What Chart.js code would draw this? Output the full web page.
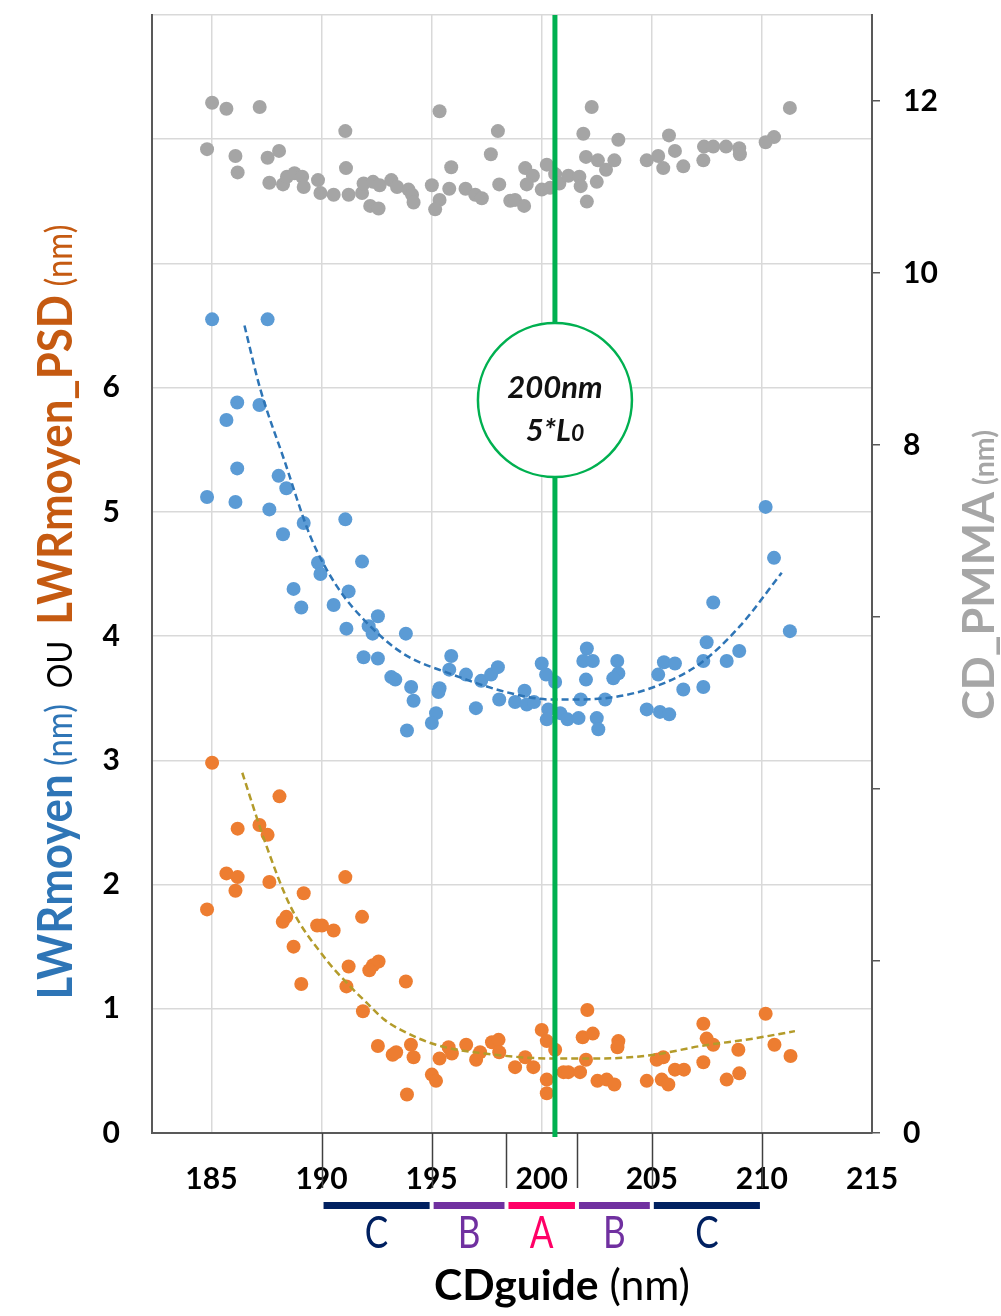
<!DOCTYPE html>
<html>
<head>
<meta charset="utf-8">
<script src="https://cdn.jsdelivr.net/npm/chart.js@4.4.1/dist/chart.umd.min.js"></script>
<style>
    html, body { margin: 0; padding: 0; background: #fff; }
    #wrap { width: 1001px; height: 1316px; }
</style>
</head>
<body>
<div id="wrap"><canvas id="mainChart" width="1001" height="1316"></canvas></div>
<script>
// CD_PMMA (right axis, nm)
const grayPoints = [
    [185.03, 11.98], [185.68, 11.91], [187.19, 11.93], [191.08, 11.65], [195.36, 11.88], [198.01, 11.65],
    [184.80, 11.44], [186.09, 11.36], [186.19, 11.17], [187.55, 11.34], [188.07, 11.42], [191.11, 11.22],
    [195.89, 11.23], [197.69, 11.38], [187.63, 11.05], [188.25, 11.03], [188.43, 11.12], [188.77, 11.16],
    [189.12, 11.12], [189.19, 11.00], [189.84, 11.08], [189.95, 10.93], [190.55, 10.91], [191.23, 10.91],
    [191.84, 10.93], [191.91, 11.04], [192.34, 11.06], [192.64, 11.02], [192.21, 10.78], [192.59, 10.75],
    [193.17, 11.08], [193.43, 11.00], [193.95, 10.97], [194.11, 10.91], [194.18, 10.82], [195.01, 11.02],
    [195.36, 10.85], [195.16, 10.74], [195.80, 10.98], [196.54, 10.98], [196.98, 10.91], [197.28, 10.87],
    [198.07, 11.03], [198.57, 10.84], [202.27, 11.93], [201.89, 11.62], [203.48, 11.55], [205.78, 11.60],
    [211.27, 11.92], [210.55, 11.58], [210.17, 11.52], [199.25, 11.22], [199.60, 11.13], [199.32, 11.03],
    [198.79, 10.85], [199.20, 10.78], [200.23, 11.26], [200.00, 10.97], [200.38, 10.99], [200.61, 11.15],
    [200.80, 11.04], [201.21, 11.13], [201.71, 11.12], [201.77, 11.01], [202.01, 11.35], [202.55, 11.31],
    [202.92, 11.20], [203.30, 11.31], [202.50, 11.06], [202.05, 10.83], [204.77, 11.31], [205.29, 11.36],
    [205.52, 11.22], [206.05, 11.42], [206.43, 11.24], [207.34, 11.31], [207.37, 11.47], [207.79, 11.47],
    [208.37, 11.47], [208.97, 11.45], [209.00, 11.38]
];

// LWRmoyen (left axis, nm)
const bluePoints = [
    [185.03, 6.55], [187.55, 6.55], [186.17, 5.88], [187.18, 5.86], [185.68, 5.74], [186.17, 5.35],
    [188.05, 5.29], [188.40, 5.19], [184.80, 5.12], [186.09, 5.08], [187.63, 5.02], [189.19, 4.91],
    [191.08, 4.94], [188.25, 4.82], [189.84, 4.59], [189.95, 4.50], [191.84, 4.60], [188.73, 4.38],
    [189.08, 4.23], [190.55, 4.25], [191.23, 4.36], [191.13, 4.06], [192.14, 4.08], [192.56, 4.16],
    [192.32, 4.02], [193.83, 4.02], [191.91, 3.83], [192.56, 3.82], [193.17, 3.67], [193.35, 3.65],
    [194.07, 3.59], [194.18, 3.48], [193.88, 3.24], [195.89, 3.84], [195.80, 3.73], [195.36, 3.58],
    [195.31, 3.55], [195.20, 3.38], [195.01, 3.30], [196.56, 3.69], [197.25, 3.64], [197.70, 3.69],
    [198.01, 3.75], [197.01, 3.42], [198.07, 3.49], [198.79, 3.47], [199.22, 3.56], [199.32, 3.45],
    [199.65, 3.47], [200.00, 3.78], [200.20, 3.69], [200.61, 3.63], [200.30, 3.41], [200.23, 3.33],
    [200.84, 3.38], [201.17, 3.33], [201.67, 3.34], [201.77, 3.49], [202.05, 3.90], [201.89, 3.80],
    [202.32, 3.80], [202.01, 3.65], [202.50, 3.34], [202.57, 3.25], [202.88, 3.49], [203.43, 3.80],
    [203.48, 3.70], [203.25, 3.66], [204.77, 3.41], [205.37, 3.39], [205.79, 3.37], [205.29, 3.69],
    [205.55, 3.79], [206.05, 3.78], [206.43, 3.57], [207.34, 3.59], [207.34, 3.80], [207.49, 3.95],
    [208.40, 3.80], [208.97, 3.88], [211.27, 4.04], [207.79, 4.27], [210.17, 5.04], [210.55, 4.63]
];

// LWRmoyen_PSD (left axis, nm)
const orangePoints = [
    [185.03, 2.98], [188.09, 2.71], [186.19, 2.45], [187.18, 2.48], [187.55, 2.40], [185.68, 2.09],
    [186.19, 2.06], [186.09, 1.95], [187.63, 2.02], [184.80, 1.80], [191.08, 2.06], [189.19, 1.93],
    [188.40, 1.74], [188.24, 1.70], [189.80, 1.67], [190.02, 1.67], [190.55, 1.63], [191.84, 1.74],
    [188.73, 1.50], [191.23, 1.34], [192.59, 1.38], [192.34, 1.35], [192.17, 1.31], [193.83, 1.22],
    [189.08, 1.20], [191.13, 1.18], [191.88, 0.98], [192.56, 0.70], [193.23, 0.63], [193.39, 0.65],
    [194.06, 0.71], [194.18, 0.61], [195.01, 0.47], [195.20, 0.42], [193.88, 0.31], [195.36, 0.60],
    [195.77, 0.69], [195.92, 0.64], [196.57, 0.71], [197.02, 0.59], [197.20, 0.65], [197.74, 0.73],
    [198.04, 0.75], [198.07, 0.65], [198.79, 0.53], [199.25, 0.61], [199.62, 0.53], [200.00, 0.83],
    [200.23, 0.74], [200.61, 0.67], [200.23, 0.43], [200.23, 0.32], [200.99, 0.49], [201.21, 0.49],
    [201.74, 0.49], [202.07, 0.99], [201.86, 0.77], [202.32, 0.80], [202.01, 0.59], [202.53, 0.42],
    [202.95, 0.43], [203.30, 0.39], [203.48, 0.74], [203.44, 0.69], [204.77, 0.42], [205.45, 0.43],
    [205.75, 0.39], [205.22, 0.59], [205.52, 0.61], [206.05, 0.51], [206.46, 0.51], [207.34, 0.88],
    [207.49, 0.76], [207.79, 0.71], [207.34, 0.57], [208.40, 0.43], [208.97, 0.48], [208.93, 0.67],
    [210.17, 0.96], [210.57, 0.71], [211.30, 0.62]
];

// Trend curves
const blueTrend = [
    [186.5, 6.50], [187.2, 6.00], [188.3, 5.42], [189.5, 4.80], [190.7, 4.40], [192.1, 4.10],
    [193.7, 3.86], [195.8, 3.70], [198.6, 3.54], [200.4, 3.49], [201.7, 3.49], [203.3, 3.51],
    [205.1, 3.59], [207.2, 3.78], [209.0, 4.08], [210.9, 4.51]
];
const orangeTrend = [
    [186.4, 2.90], [187.4, 2.36], [188.6, 1.82], [190.1, 1.42], [191.3, 1.18], [192.1, 1.04],
    [192.8, 0.92], [193.6, 0.83], [195.2, 0.71], [197.4, 0.64], [200.5, 0.60], [202.7, 0.60],
    [205.1, 0.63], [207.2, 0.70], [209.6, 0.76], [211.5, 0.82]
];

// Axes
const xTicks = [185, 190, 195, 200, 205, 210, 215];
const leftTicks = [0, 1, 2, 3, 4, 5, 6, 7, 8, 9];
const leftLabelled = [0, 1, 2, 3, 4, 5, 6];
const rightTicks = [0, 2, 4, 6, 8, 10, 12];
const rightLabelled = [0, 8, 10, 12];

// Zones under the x axis and the 200nm marker
const zoneBounds = [190, 195, 198.4, 201.6, 205, 210];
const zoneLabels = ['C', 'B', 'A', 'B', 'C'];
const markerX = 200.6;
const markerY = 5.9;
const markerLines = ['200nm', '5*L', '0'];

const FONT = 'Lato';
const ZONE_COLORS = { C: '#002060', B: '#7030A0', A: '#FF0066' };

const toXY = arr => arr.map(p => ({ x: p[0], y: p[1] }));

// draws a run of differently styled text pieces, centered on (x, y) baseline
function drawRich(ctx, parts, x, y, angle, targetLength) {
    ctx.save();
    ctx.translate(x, y);
    ctx.rotate(angle);
    const widths = parts.map(p => { ctx.font = p.font; return ctx.measureText(p.text).width; });
    const total = widths.reduce((a, b) => a + b, 0);
    if (targetLength) ctx.scale(targetLength / total, 1);
    ctx.textBaseline = 'alphabetic';
    ctx.textAlign = 'left';
    let cur = -total / 2;
    parts.forEach((p, i) => {
        ctx.font = p.font;
        ctx.fillStyle = p.color;
        ctx.fillText(p.text, cur, 0);
        cur += widths[i];
    });
    ctx.restore();
}

const extrasPlugin = {
    id: 'extras',
    afterDatasetsDraw(chart) {
        const ctx = chart.ctx;
        const xs = chart.scales.x;
        const ys = chart.scales.y;
        const area = chart.chartArea;
        const gx = xs.getPixelForValue(markerX);

        // green reference line
        ctx.save();
        ctx.strokeStyle = '#00B050';
        ctx.lineWidth = 5;
        ctx.beginPath();
        ctx.moveTo(gx, area.top);
        ctx.lineTo(gx, area.bottom + 4);
        ctx.stroke();

        // circle label
        const cy = ys.getPixelForValue(markerY);
        ctx.beginPath();
        ctx.arc(gx, cy, 77, 0, Math.PI * 2);
        ctx.fillStyle = '#fff';
        ctx.fill();
        ctx.lineWidth = 2.5;
        ctx.stroke();

        ctx.fillStyle = '#111';
        ctx.textBaseline = 'alphabetic';
        ctx.textAlign = 'center';
        ctx.font = `italic bold 31px ${FONT}`;
        ctx.fillText(markerLines[0], gx, cy - 2);
        drawRich(ctx, [
            { text: markerLines[1], font: `italic bold 31px ${FONT}`, color: '#111' },
            { text: markerLines[2], font: `italic bold 23px ${FONT}`, color: '#111' }
        ], gx, cy + 41, 0);
        ctx.restore();
    },
    afterDraw(chart) {
        const ctx = chart.ctx;
        const xs = chart.scales.x;
        const area = chart.chartArea;

        ctx.save();
        // zone boundary lines below the axis
        ctx.strokeStyle = '#404040';
        ctx.lineWidth = 1.5;
        zoneBounds.forEach(b => {
            const px = Math.round(xs.getPixelForValue(b)) + 0.5;
            ctx.beginPath();
            ctx.moveTo(px, area.bottom);
            ctx.lineTo(px, area.bottom + 55);
            ctx.stroke();
        });

        // zone bars + letters
        zoneLabels.forEach((lab, i) => {
            const x0 = xs.getPixelForValue(zoneBounds[i]) + 2;
            const x1 = xs.getPixelForValue(zoneBounds[i + 1]) - 2;
            ctx.fillStyle = ZONE_COLORS[lab];
            ctx.fillRect(x0, area.bottom + 69, x1 - x0, 7);
            ctx.save();
            ctx.translate((x0 + x1) / 2, area.bottom + 115);
            ctx.scale(0.78, 1);
            ctx.font = `45px ${FONT}`;
            ctx.textAlign = 'center';
            ctx.textBaseline = 'alphabetic';
            ctx.fillText(lab, 0, 0);
            ctx.restore();
        });

        // x title
        drawRich(ctx, [
            { text: 'CDguide', font: `bold 42px ${FONT}`, color: '#000' },
            { text: ' (nm)', font: `42px ${FONT}`, color: '#000' }
        ], 562, 1300, 0, 256);

        // left title (two colored parts)
        const blue = '#2E75B6';
        const orange = '#C55A11';
        drawRich(ctx, [
            { text: 'LWRmoyen', font: `bold 48px ${FONT}`, color: blue },
            { text: ' (nm)', font: `36px ${FONT}`, color: blue },
            { text: '  OU  ', font: `34px ${FONT}`, color: '#000' },
            { text: 'LWRmoyen_PSD', font: `bold 48px ${FONT}`, color: orange },
            { text: ' (nm)', font: `36px ${FONT}`, color: orange }
        ], 72, 612, -Math.PI / 2, 775);

        // right title
        drawRich(ctx, [
            { text: 'CD_PMMA', font: `bold 44px ${FONT}`, color: '#A6A6A6' },
            { text: ' (nm)', font: `bold 28px ${FONT}`, color: '#A6A6A6' }
        ], 994, 575, -Math.PI / 2, 290);
        ctx.restore();
    }
};

Chart.defaults.font.family = FONT;

// fixed axis boxes so the plot area lands at 152..872 x 15..1133
function fixVertical(width) {
    return s => {
        s.width = width;
        s.paddingTop = 0;
        s.paddingBottom = 0;
    };
}

const ctx = document.getElementById('mainChart').getContext('2d');

new Chart(ctx, {
    type: 'scatter',
    data: {
        datasets: [
            {
                label: 'trend LWR',
                data: toXY(blueTrend),
                showLine: true,
                borderColor: '#2E75B6',
                borderWidth: 2.5,
                borderDash: [7, 4],
                pointRadius: 0,
                cubicInterpolationMode: 'monotone',
                yAxisID: 'y'
            },
            {
                label: 'trend PSD',
                data: toXY(orangeTrend),
                showLine: true,
                borderColor: '#B39B2A',
                borderWidth: 2.5,
                borderDash: [7, 4],
                pointRadius: 0,
                cubicInterpolationMode: 'monotone',
                yAxisID: 'y'
            },
            {
                label: 'LWRmoyen_PSD',
                data: toXY(orangePoints),
                backgroundColor: '#ED7D31',
                borderWidth: 0,
                pointRadius: 7,
                yAxisID: 'y'
            },
            {
                label: 'LWRmoyen',
                data: toXY(bluePoints),
                backgroundColor: '#5B9BD5',
                borderWidth: 0,
                pointRadius: 7,
                yAxisID: 'y'
            },
            {
                label: 'CD_PMMA',
                data: toXY(grayPoints),
                backgroundColor: '#A5A5A5',
                borderWidth: 0,
                pointRadius: 7,
                yAxisID: 'y2'
            }
        ]
    },
    options: {
        responsive: false,
        animation: false,
        layout: { padding: { top: 15, left: 0, right: 0, bottom: 0 } },
        plugins: {
            legend: { display: false },
            tooltip: { enabled: false }
        },
        scales: {
            x: {
                type: 'linear',
                position: 'bottom',
                min: 182.3,
                max: 215,
                afterBuildTicks: s => { s.ticks = xTicks.map(v => ({ value: v })); },
                afterFit: s => { s.height = 183; s.paddingLeft = 0; s.paddingRight = 0; },
                ticks: {
                    color: '#000',
                    font: { size: 30, weight: 'bold' },
                    padding: 28,
                    callback: v => String(v)
                },
                grid: { color: '#D9D9D9', lineWidth: 1.5, drawTicks: false, tickLength: 0 },
                border: { color: '#595959', width: 2 }
            },
            y: {
                type: 'linear',
                position: 'left',
                min: 0,
                max: 9,
                afterBuildTicks: s => { s.ticks = leftTicks.map(v => ({ value: v })); },
                afterFit: fixVertical(152),
                ticks: {
                    color: '#000',
                    font: { size: 30, weight: 'bold' },
                    padding: 32,
                    callback: v => leftLabelled.includes(v) ? String(v) : ''
                },
                grid: { color: '#D9D9D9', lineWidth: 1.5, drawTicks: false, tickLength: 0 },
                border: { color: '#595959', width: 2 }
            },
            y2: {
                type: 'linear',
                position: 'right',
                min: 0,
                max: 13,
                afterBuildTicks: s => { s.ticks = rightTicks.map(v => ({ value: v })); },
                afterFit: fixVertical(129),
                ticks: {
                    color: '#000',
                    font: { size: 30, weight: 'bold' },
                    padding: 23,
                    callback: v => rightLabelled.includes(v) ? String(v) : ''
                },
                grid: { drawOnChartArea: false, drawTicks: true, tickLength: 8, color: '#595959', lineWidth: 1.5 },
                border: { color: '#595959', width: 2 }
            }
        }
    },
    plugins: [extrasPlugin]
});
</script>
</body>
</html>
